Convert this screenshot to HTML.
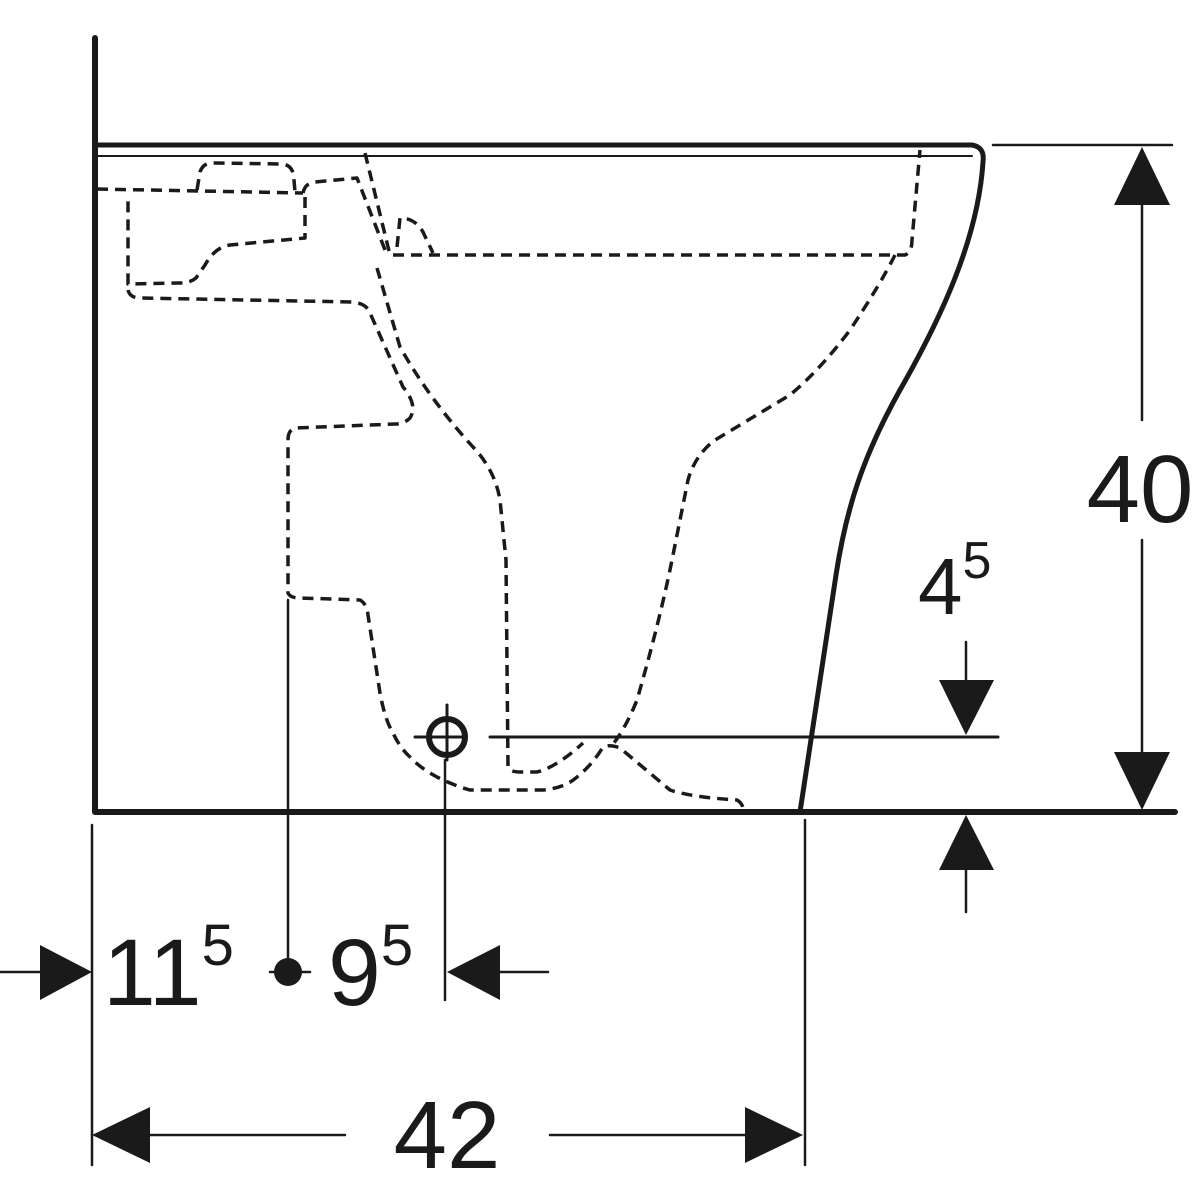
<!DOCTYPE html>
<html><head><style>html,body{margin:0;padding:0;background:#fff}svg{display:block}</style></head>
<body>
<svg width="1200" height="1200" viewBox="0 0 1200 1200" xmlns="http://www.w3.org/2000/svg">
<g fill="none" stroke="#1a1a1a" stroke-linecap="round" stroke-linejoin="round">
<!-- main outlines -->
<path d="M95,38 V812 H1175" stroke-width="6"/>
<path d="M95,145 H972 Q985,147 983,162 C978,240 940,320 900,390 C862,458 846,510 836,575 L800,812" stroke-width="5"/>
<line x1="97" y1="156" x2="972" y2="156" stroke-width="2"/>
<!-- dashed internals -->
<g stroke-width="3.5" stroke-dasharray="11,7" stroke-linecap="butt">
<path d="M97,189 L303,193"/>
<path d="M197,190 L200,172 Q203,163 212,163 L283,164 Q294,166 294,180 L295,192"/>
<path d="M303,193 Q305,183 315,182 L357,178 L387,255"/>
<path d="M305,197 L305,238 L230,245 Q215,247 205,265 L196,278 Q190,283 180,283 L128,284 L128,195"/>
<path d="M128,290 Q130,298 140,298 L353,302 Q367,304 370,313 L403,387 Q418,405 410,418 Q404,424 395,424 L295,428 Q288,430 288,440 L288,593 Q290,598 300,598 L360,600 Q367,604 368,615 L380,693 Q385,720 393,733 Q400,748 410,757 Q420,768 437,777 Q455,786 470,790 L543,790 Q565,788 577,777 Q592,765 603,747 Q610,744 620,748 L670,790 Q690,797 737,800 Q742,803 743,808"/>
<path d="M365,153 L390,255 L905,255 Q912,252 912,240 L920,150"/>
<path d="M377,268 L400,347 Q430,400 473,447 Q495,470 500,500 L506,560 L508,767 Q510,772 520,772 L537,772 Q557,767 583,743"/>
<path d="M895,255 Q880,285 850,330 Q820,370 790,395 Q740,425 715,440 Q695,455 688,480 Q680,520 672,560 Q660,620 637,700 Q625,730 610,748"/>
<path d="M397,247 L400,218 Q415,218 423,232 L433,253"/>
</g>
<!-- target symbol -->
<circle cx="447" cy="737" r="18" stroke-width="6"/>
<line x1="447" y1="705" x2="447" y2="760" stroke-width="3"/>
<line x1="415" y1="737" x2="463" y2="737" stroke-width="3"/>
<line x1="490" y1="737" x2="998" y2="737" stroke-width="3"/>
<!-- dimension lines -->
<line x1="993" y1="145" x2="1172" y2="145" stroke-width="2.5"/>
<line x1="1142" y1="200" x2="1142" y2="420" stroke-width="2.5"/>
<line x1="1142" y1="540" x2="1142" y2="760" stroke-width="2.5"/>
<line x1="966" y1="642" x2="966" y2="690" stroke-width="2.5"/>
<line x1="966" y1="860" x2="966" y2="912" stroke-width="2.5"/>
<line x1="92" y1="825" x2="92" y2="1165" stroke-width="2.5"/>
<line x1="805" y1="820" x2="805" y2="1165" stroke-width="2.5"/>
<line x1="288" y1="600" x2="288" y2="960" stroke-width="2.5"/>
<line x1="445" y1="760" x2="445" y2="1000" stroke-width="2.5"/>
<line x1="0" y1="972" x2="50" y2="972" stroke-width="2.5"/>
<line x1="495" y1="972" x2="548" y2="972" stroke-width="2.5"/>
<line x1="270" y1="972" x2="310" y2="972" stroke-width="2.5"/>
<line x1="145" y1="1135" x2="345" y2="1135" stroke-width="2.5"/>
<line x1="550" y1="1135" x2="750" y2="1135" stroke-width="2.5"/>
</g>
<g fill="#1a1a1a">
<polygon points="1142,147 1114,205 1170,205"/>
<polygon points="1142,810 1114,752 1170,752"/>
<polygon points="966,735 939,680 994,680"/>
<polygon points="966,815 939,870 994,870"/>
<polygon points="92,972 40,945 40,1000"/>
<polygon points="447,972 500,945 500,1000"/>
<polygon points="92,1135 150,1107 150,1163"/>
<polygon points="803,1135 745,1107 745,1163"/>
<circle cx="288" cy="972" r="14"/>
</g>
<g font-family="Liberation Sans, sans-serif" fill="#1a1a1a">
<text x="1140" y="522" font-size="96" text-anchor="middle">40</text>
<text x="918" y="614" font-size="80">4<tspan font-size="52" dy="-36">5</tspan></text>
<text x="103" y="1005" font-size="95">11<tspan font-size="58" dy="-40">5</tspan></text>
<text x="328" y="1005" font-size="95">9<tspan font-size="58" dy="-40">5</tspan></text>
<text x="447" y="1168" font-size="96" text-anchor="middle">42</text>
</g>
</svg>
</body></html>
